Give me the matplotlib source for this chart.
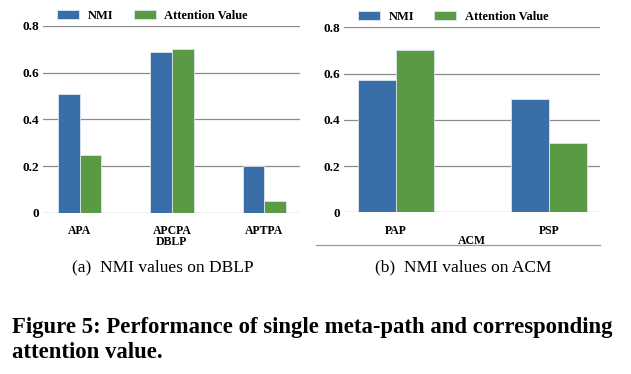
import numpy as np
import matplotlib
matplotlib.use('Agg')
import matplotlib.pyplot as plt
from matplotlib.lines import Line2D

dblp_paths = ['APA', 'APCPA', 'APTPA']
dblp_nmi = [0.51, 0.69, 0.20]
dblp_att = [0.25, 0.70, 0.05]

acm_paths = ['PAP', 'PSP']
acm_nmi = [0.57, 0.49]
acm_att = [0.70, 0.30]

yticks = [0, 0.2, 0.4, 0.6, 0.8]
ytick_labels = ['0', '0.2', '0.4', '0.6', '0.8']

blue = '#3a6ea8'
green = '#5a9a45'
serif = 'Liberation Serif'


def draw_panel(ax, paths, nmi, att, width, xlim, xlabel):
    x = np.arange(len(paths))
    ax.bar(x - width / 2, nmi, width, color=blue, edgecolor='#dce6f0', linewidth=0.6, label='NMI', zorder=3)
    ax.bar(x + width / 2, att, width, color=green, edgecolor='#dce6f0', linewidth=0.6, label='Attention Value', zorder=3)
    ax.set_xlim(*xlim)
    ax.set_ylim(0, 0.8)
    ax.set_yticks(yticks)
    ax.set_yticklabels(ytick_labels, family=serif, weight='bold', fontsize=9.5)
    ax.set_xticks(x)
    ax.set_xticklabels(paths, family=serif, weight='bold', fontsize=8.5)
    ax.tick_params(length=0, axis='y', pad=3)
    ax.tick_params(length=0, axis='x', pad=9)
    ax.set_xlabel(xlabel, family=serif, weight='bold', fontsize=8.5, labelpad=-1)
    ax.grid(axis='y', color='#8c8c8c', linewidth=0.9, zorder=0)
    for s in ax.spines.values():
        s.set_visible(False)
    ax.legend(loc='lower center', bbox_to_anchor=(0.427, 0.995), ncol=2, frameon=False,
              prop={'family': serif, 'weight': 'bold', 'size': 9},
              handlelength=1.75, handleheight=0.7, handletextpad=0.7,
              columnspacing=1.6, borderaxespad=0)


fig = plt.figure(figsize=(6.31, 3.74), dpi=100)
ax1 = fig.add_axes([43 / 631, 1 - 213 / 374, 257 / 631, 187 / 374])
ax2 = fig.add_axes([344 / 631, 1 - 212.3 / 374, 256 / 631, 185 / 374])

draw_panel(ax1, dblp_paths, dblp_nmi, dblp_att, 0.237, (-0.395, 2.384), 'DBLP')
draw_panel(ax2, acm_paths, acm_nmi, acm_att, 0.248, (-0.34, 1.333), 'ACM')

# faint frame edge under the right panel
fig.add_artist(Line2D([316 / 631, 600 / 631], [1 - 245 / 374, 1 - 245 / 374],
                      color='#9a9a9a', linewidth=0.9))

fig.text(163 / 631, 1 - 267 / 374, '(a)  NMI values on DBLP', family=serif, fontsize=12.5,
         ha='center', va='center')
fig.text(463 / 631, 1 - 267 / 374, '(b)  NMI values on ACM', family=serif, fontsize=12.5,
         ha='center', va='center')
fig.text(12 / 631, 1 - 328 / 374, 'Figure 5: Performance of single meta-path and corresponding',
         family=serif, weight='bold', fontsize=16.4, ha='left', va='center')
fig.text(12 / 631, 1 - 353 / 374, 'attention value.',
         family=serif, weight='bold', fontsize=16.4, ha='left', va='center')

fig.savefig('out.png', dpi=100)
